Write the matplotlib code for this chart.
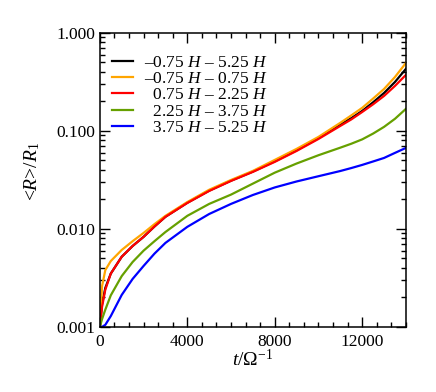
import numpy as np
from matplotlib import pyplot as plt
from matplotlib.ticker import MultipleLocator, LogLocator, FixedLocator
import matplotlib

matplotlib.use('Agg')
plt.rcParams["font.family"] = "Liberation Serif"
matplotlib.rcParams['mathtext.fontset'] = 'custom'
matplotlib.rcParams['mathtext.rm'] = 'Liberation Serif'
matplotlib.rcParams['mathtext.it'] = 'Liberation Serif:italic'

# time in units of 1/Omega
t = [0, 100, 250, 500, 1000, 1500, 2000, 2500, 3000, 4000, 5000, 6000, 7000,
     8000, 9000, 10000, 11000, 11500, 12000, 12500, 13000, 13500, 14000]

r_all = [0.001, 0.0017, 0.0025, 0.0035, 0.0052, 0.0067, 0.0083, 0.0106, 0.0133, 0.0185, 0.0246,
         0.0311, 0.0385, 0.0490, 0.0635, 0.0845, 0.1160, 0.1350, 0.1600, 0.1960, 0.2440, 0.3160, 0.4300]
r_orange = [0.001, 0.0026, 0.0038, 0.0047, 0.0061, 0.0075, 0.0091, 0.0112, 0.0136, 0.0188, 0.0251,
            0.0316, 0.0391, 0.0506, 0.0656, 0.0869, 0.1210, 0.1440, 0.1720, 0.2140, 0.2680, 0.3550, 0.4940]
r_red = [0.001, 0.0016, 0.0024, 0.0035, 0.0052, 0.0067, 0.0083, 0.0106, 0.0133, 0.0184, 0.0244,
         0.0309, 0.0382, 0.0483, 0.0625, 0.0828, 0.1125, 0.1310, 0.1560, 0.1870, 0.2276, 0.2880, 0.3730]
r_green = [0.001, 0.0012, 0.0015, 0.0021, 0.0033, 0.0046, 0.0060, 0.0075, 0.0093, 0.0136, 0.0180,
           0.0224, 0.0290, 0.0375, 0.0465, 0.0565, 0.0675, 0.0740, 0.0820, 0.0940, 0.1100, 0.1330, 0.1680]
r_blue = [0.001, 0.001, 0.00105, 0.00129, 0.00212, 0.00309, 0.00419, 0.0056, 0.0072, 0.0105, 0.0142,
          0.0180, 0.0222, 0.0265, 0.0305, 0.0345, 0.0390, 0.0418, 0.0450, 0.0488, 0.0530, 0.0597, 0.0671]

labels = ['–0.75 $H$ – 5.25 $H$', '–0.75 $H$ – 0.75 $H$', '  0.75 $H$ – 2.25 $H$',
          '  2.25 $H$ – 3.75 $H$', '  3.75 $H$ – 5.25 $H$']
colors = ['black', '#ffa500', '#ff0000', '#66a000', '#0000ff']

fig = plt.figure(figsize=[4.36, 3.92], dpi=100)
ax = fig.add_axes([0.229, 0.166, 0.702, 0.75])

for r, c, lab in zip([r_all, r_orange, r_red, r_green, r_blue], colors, labels):
    ax.plot(t, r, color=c, lw=1.6, label=lab)

ax.set_yscale('log')
ax.set_xlim(0, 14000)
ax.set_ylim(0.001, 1.0)
ax.xaxis.set_major_locator(MultipleLocator(4000))
ax.xaxis.set_minor_locator(MultipleLocator(4000 / 6))
ax.yaxis.set_major_locator(FixedLocator([0.001, 0.01, 0.1, 1.0]))
ax.yaxis.set_minor_locator(LogLocator(base=10, subs=np.arange(2, 10)))
ax.set_yticklabels(['0.001', '0.010', '0.100', '1.000'])
ax.tick_params(which='both', direction='in', top=True, right=True, labelsize=12.5, width=1.0)
ax.tick_params(which='major', length=7)
ax.tick_params(which='minor', length=3.5)
ax.tick_params(axis='x', pad=5)
ax.tick_params(axis='y', pad=3)
for s in ax.spines.values():
    s.set_linewidth(1.1)

ax.set_xlabel(r'$t/\Omega^{-1}$', fontsize=14, labelpad=-1)
ax.set_ylabel(r'<$R$>/$R_1$', fontsize=14)
ax.yaxis.set_label_coords(-0.19, 0.53)

ax.legend(loc='upper left', frameon=False, fontsize=12.5, handlelength=1.2,
          handletextpad=0.65, labelspacing=0.0, borderaxespad=0.0, borderpad=0.0,
          bbox_to_anchor=(0.039, 0.925))

fig.savefig('out.png', dpi=100)
